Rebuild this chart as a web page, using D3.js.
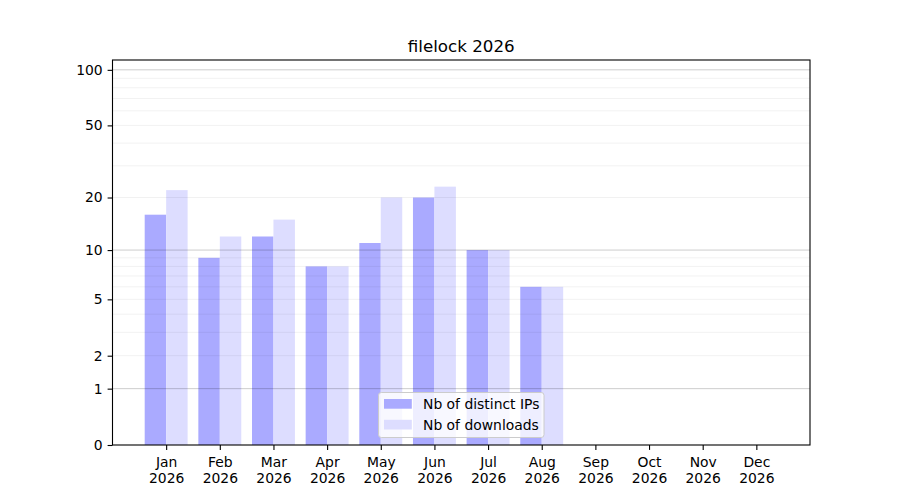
<!DOCTYPE html>
<html>
<head>
<meta charset="utf-8">
<script src="https://cdn.jsdelivr.net/npm/d3@7"></script>
<style>
	body { margin: 0; background: #fff; }
	svg { font-family: "DejaVu Sans", sans-serif; }
</style>
</head>
<body>
<svg id="chart" width="900" height="500"></svg>
<script>
'use strict';

var months = ['Jan', 'Feb', 'Mar', 'Apr', 'May', 'Jun', 'Jul', 'Aug', 'Sep', 'Oct', 'Nov', 'Dec'];
var year = '2026';
var distinctIps = [16, 9, 12, 8, 11, 20, 10, 6];
var downloads = [22, 12, 15, 8, 20, 23, 10, 6];
var yTicks = [0, 1, 2, 5, 10, 20, 50, 100];
var majorGrid = [1, 10, 100];
var minorGrid = [2, 3, 4, 5, 6, 7, 8, 9, 20, 30, 40, 50, 60, 70, 80, 90];
var series = [
	{ name: 'Nb of distinct IPs', values: distinctIps, color: '#aaaaff', offset: -0.4 },
	{ name: 'Nb of downloads', values: downloads, color: '#ddddff', offset: 0 }
];

var svg = d3.select('#chart');
var margin = { left: 112.5, right: 810, top: 60, bottom: 445 };

// log(1 + y) style axis, symlog with constant 1 gives the same thing
var y = d3.scaleSymlog().constant(1).domain([0, 113]).range([margin.bottom, margin.top]);
var x = d3.scaleLinear().domain([-1, 12]).range([margin.left, margin.right]);
var barWidth = x(0.4) - x(0);

var bars = svg.append('g');
series.forEach(function(s) {
	bars.selectAll(null)
		.data(s.values)
		.enter()
		.append('rect')
		.attr('x', function(d, i) { return x(i + s.offset); })
		.attr('width', barWidth)
		.attr('y', function(d) { return y(d); })
		.attr('height', function(d) { return y(0) - y(d); })
		.attr('fill', s.color);
});

// grid above the bars, like matplotlib does
var grid = svg.append('g');
grid.selectAll('.minor')
	.data(minorGrid)
	.enter()
	.append('line')
	.attr('x1', margin.left).attr('x2', margin.right)
	.attr('y1', function(d) { return y(d); })
	.attr('y2', function(d) { return y(d); })
	.attr('stroke', '#000')
	.attr('stroke-opacity', 0.07)
	.attr('stroke-width', 0.8);
grid.selectAll('.major')
	.data(majorGrid)
	.enter()
	.append('line')
	.attr('x1', margin.left).attr('x2', margin.right)
	.attr('y1', function(d) { return y(d); })
	.attr('y2', function(d) { return y(d); })
	.attr('stroke', '#000')
	.attr('stroke-opacity', 0.2)
	.attr('stroke-width', 1);

// axes
var yAxis = d3.axisLeft(y)
	.tickValues(yTicks)
	.tickFormat(d3.format('d'))
	.tickSize(4.9)
	.tickPadding(4.9);
var yg = svg.append('g')
	.attr('transform', 'translate(' + margin.left + ',0)')
	.call(yAxis);

var xAxis = d3.axisBottom(x)
	.tickValues(d3.range(months.length))
	.tickFormat('')
	.tickSize(4.9);
var xg = svg.append('g')
	.attr('transform', 'translate(0,' + margin.bottom + ')')
	.call(xAxis);

[yg, xg].forEach(function(g) {
	g.select('.domain').remove();
	g.selectAll('.tick line').attr('stroke', '#000').attr('stroke-width', 1.1);
	g.selectAll('.tick text')
		.attr('fill', '#000')
		.style('font-size', '13.9px')
		.style('font-family', '"DejaVu Sans", sans-serif');
});

xg.selectAll('.tick').each(function(d) {
	var t = d3.select(this).select('text')
		.attr('y', 0)
		.attr('dy', null);
	t.append('tspan').attr('x', 0).attr('y', 21.5).text(months[d]);
	t.append('tspan').attr('x', 0).attr('y', 38).text(year);
});

// frame
svg.append('rect')
	.attr('x', margin.left)
	.attr('y', margin.top)
	.attr('width', margin.right - margin.left)
	.attr('height', margin.bottom - margin.top)
	.attr('fill', 'none')
	.attr('stroke', '#000')
	.attr('stroke-width', 1.1);

// title
svg.append('text')
	.attr('x', (margin.left + margin.right) / 2)
	.attr('y', 51.5)
	.attr('text-anchor', 'middle')
	.style('font-size', '16.7px')
	.text('filelock ' + year);

// legend, lower center
var legend = svg.append('g').attr('transform', 'translate(378.5,392.5)');
legend.append('rect')
	.attr('width', 165.5)
	.attr('height', 45)
	.attr('rx', 2.8)
	.attr('fill', '#fff')
	.attr('fill-opacity', 0.8)
	.attr('stroke', '#cccccc')
	.attr('stroke-width', 1);
series.forEach(function(s, i) {
	var row = legend.append('g').attr('transform', 'translate(0,' + (i * 20.8) + ')');
	row.append('rect')
		.attr('x', 5.5)
		.attr('y', 6.5)
		.attr('width', 27.8)
		.attr('height', 9.7)
		.attr('fill', s.color);
	row.append('text')
		.attr('x', 44.5)
		.attr('y', 16.3)
		.style('font-size', '13.9px')
		.text(s.name);
});
</script>
</body>
</html>
